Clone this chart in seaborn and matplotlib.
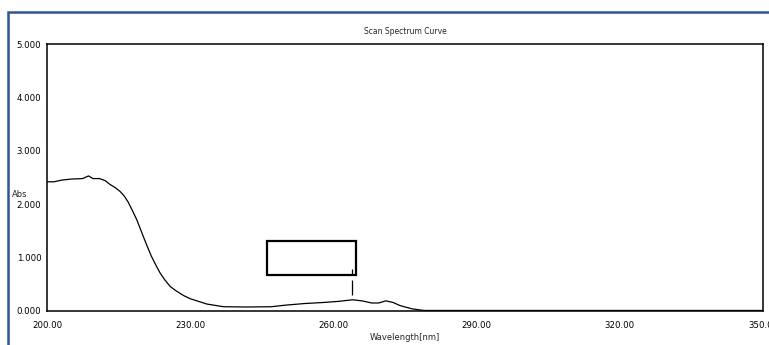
import matplotlib
matplotlib.use("Agg")
import matplotlib.pyplot as plt
from matplotlib.patches import Rectangle
import seaborn as sns
import pandas as pd

# Spectrum data
wavelength = [200.0, 201.5, 203.0, 205.0, 207.5, 208.7, 209.6, 211.0, 212.2, 213.2,
              214.3, 215.3, 216.2, 217.0, 217.9, 218.8, 219.5, 220.2, 221.0, 221.9,
              222.8, 223.7, 224.7, 225.8, 227.0, 228.6, 230.0, 232.1, 233.5, 234.9,
              237.0, 242.0, 247.0, 250.0, 254.0, 258.0, 261.0, 264.0, 266.0, 268.0,
              269.5, 271.0, 272.5, 274.0, 276.5, 279.0, 290.0, 320.0, 350.0]
absorbance = [2.42, 2.42, 2.45, 2.47, 2.48, 2.53, 2.48, 2.48, 2.44, 2.37,
              2.31, 2.24, 2.15, 2.04, 1.88, 1.71, 1.55, 1.39, 1.21, 1.02,
              0.86, 0.71, 0.58, 0.46, 0.38, 0.29, 0.23, 0.17, 0.13, 0.11,
              0.08, 0.075, 0.08, 0.11, 0.14, 0.16, 0.18, 0.21, 0.19, 0.15,
              0.15, 0.19, 0.16, 0.10, 0.04, 0.01, 0.01, 0.01, 0.01]

x_ticks = [200, 230, 260, 290, 320, 350]
x_tick_labels = ["200.00", "230.00", "260.00", "290.00", "320.00", "350.00"]
y_ticks = [0, 1, 2, 3, 4, 5]
y_tick_labels = ["0.000", "1.000", "2.000", "3.000", "4.000", "5.000"]

# Peak marker box and pointer (data coords)
box_x = [246.1, 264.7]
box_y = [0.68, 1.31]
marker_x = 264.0
marker_segments = [(0.67, 0.78), (0.30, 0.58)]

sns.set_style("white")
plt.rcParams['font.family'] = ['Liberation Sans Narrow', 'DejaVu Sans']

fig = plt.figure(figsize=(7.69, 3.45), dpi=100)
ax = fig.add_axes([47/769, 1 - 311/345, (763-47)/769, (311-44)/345])

df = pd.DataFrame({"Wavelength": wavelength, "Abs": absorbance})
sns.lineplot(data=df, x="Wavelength", y="Abs", color="black", lw=0.9, ax=ax)

ax.set_xlim(200, 350)
ax.set_ylim(0, 5)
ax.set_xticks(x_ticks)
ax.set_xticklabels(x_tick_labels)
ax.set_yticks(y_ticks)
ax.set_yticklabels(y_tick_labels)
ax.tick_params(axis="both", length=0, labelsize=6.2, colors="black")
ax.tick_params(axis="x", pad=7)
ax.tick_params(axis="y", pad=4)
ax.set_xlabel("")
ax.set_ylabel("")
for s in ax.spines.values():
    s.set_color("black")
    s.set_linewidth(1.1)

ax.add_patch(Rectangle((box_x[0], box_y[0]), box_x[1]-box_x[0], box_y[1]-box_y[0],
                       fill=False, edgecolor="black", lw=1.6, zorder=3))
for y0, y1 in marker_segments:
    ax.vlines(marker_x, y0, y1, color="black", lw=0.9)

fig.text(405/769, 1 - 31/345, "Scan Spectrum Curve", ha="center", va="center", fontsize=5.5)
fig.text(12/769, 1 - 195/345, "Abs", ha="left", va="center", fontsize=6)
fig.text(405/769, 1 - 337/345, "Wavelength[nm]", ha="center", va="center", fontsize=6)

# Blue outer frame
fig.patches.append(Rectangle((8/769, -0.1), 1.0, 1 - 12/345 + 0.1, transform=fig.transFigure,
                             fill=False, edgecolor="#2f5597", lw=1.8))

fig.savefig("out.png", dpi=100)
